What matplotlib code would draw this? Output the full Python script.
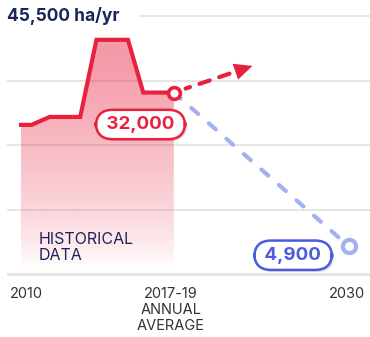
import numpy as np
import matplotlib
matplotlib.use('Agg')
import matplotlib.pyplot as plt
from matplotlib import transforms
from matplotlib import patheffects

plt.rcParams['font.family'] = ['Inter', 'DejaVu Sans']

# historical deforestation, ha/yr, up to the 2017-19 annual average
hist_years = [2010, 2010.55, 2011.5, 2013.1, 2013.95, 2015.6, 2016.4, 2018]
hist_values = [26300, 26300, 27700, 27700, 41300, 41300, 32000, 32000]

# target path to 2030
target_years = [2018, 2030]
target_values = [32000, 4900]

# rising trend if nothing changes
trend_years = [2018, 2023.4]
trend_values = [32000, 36700]

tick_years = [2010, 2018, 2030]
tick_labels = ['2010', '2017-19\nANNUAL\nAVERAGE', '2030']
grid_values = [0, 11375, 22750, 34125, 45500]
y_max = 45500

RED = '#e8213f'
BLUE = '#4a5be0'
LIGHT_BLUE = '#a3b0f2'
NAVY = '#1b2559'
GREY = '#333333'


def xpos(year):
    # the projection period is drawn compressed
    year = np.asarray(year, dtype=float)
    return np.where(year <= 2018, year - 2010, 8 + (year - 2018) * 0.763)


fig = plt.figure(figsize=(3.7, 3.37), dpi=100)
ax = fig.add_axes([0, 63 / 337, 1, 258 / 337])
ax.set_xlim(-21 / 19.1, 349 / 19.1)
ax.set_ylim(0, y_max)
for s in ax.spines.values():
    s.set_visible(False)

# gridlines
for g in grid_values:
    if g == y_max:
        ax.axhline(g, xmin=140 / 370, xmax=1, color='#e6e6e6', lw=1.4, zorder=0, clip_on=False)
    elif g == 0:
        ax.axhline(g, xmin=8 / 370, xmax=1, color='#e2e2e2', lw=2, zorder=0, clip_on=False)
    else:
        ax.axhline(g, xmin=8 / 370, xmax=1, color='#e6e6e6', lw=1.4, zorder=0)

hx = xpos(hist_years)

# pink gradient under the historical curve
grad = np.linspace(0, 1, 256)[:, None]
alpha = np.clip((grad - 0.03) / 0.88, 0, 1) ** 0.7 * 0.45
img = np.zeros((256, 1, 4))
img[..., 0] = 0xe8 / 255
img[..., 1] = 0x21 / 255
img[..., 2] = 0x3f / 255
img[..., 3] = alpha
im = ax.imshow(img, extent=[hx[0], hx[-1], 0, max(hist_values)], origin='lower',
               aspect='auto', zorder=1)
poly = ax.fill_between(hx, hist_values, 0, color='none', lw=0)
im.set_clip_path(poly.get_paths()[0], transform=ax.transData)

ax.plot(hx, hist_values, color=RED, lw=3, solid_joinstyle='miter', zorder=3)

# target line and trend arrow
ax.plot(xpos(target_years), target_values, color=LIGHT_BLUE, lw=3,
        dashes=(2.2, 3.4), dash_capstyle='round', zorder=2)
tr_start = (float(xpos(trend_years[0])), trend_values[0])
tr_end = (float(xpos(trend_years[1])), trend_values[1])
ax.annotate('', xy=tr_end, xytext=tr_start,
            arrowprops=dict(arrowstyle='-', color=RED, lw=3, linestyle=(1.5, (2.6, 2.4)),
                            capstyle='round', shrinkA=9, shrinkB=12), zorder=3)
ax.annotate('', xy=tr_end, xytext=tr_start,
            arrowprops=dict(arrowstyle='-|>,head_length=13,head_width=6', mutation_scale=1,
                            color=RED, lw=0, shrinkA=0, shrinkB=0), zorder=3)

# end point markers
ax.plot(xpos(2018), 32000, 'o', ms=8.5, mfc='white', mec=RED, mew=2.6, zorder=5)
ax.plot(xpos(2030), 4900, 'o', ms=9.5, mfc='white', mec=LIGHT_BLUE, mew=3, zorder=5)


def pill(x, y, text, color, dx, dy):
    off = transforms.offset_copy(ax.transData, fig=fig, x=dx, y=dy, units='points')
    t = ax.text(x, y, ' ' + text + ' ', transform=off, ha='center', va='center',
                fontsize=13.5, fontweight='bold', color=color, zorder=7,
                bbox=dict(boxstyle='round,pad=0.33,rounding_size=0.9', fc='white',
                          ec=color, lw=1.8))
    t.get_bbox_patch().set_path_effects([
        patheffects.SimplePatchShadow(offset=(1.5, -1.5), shadow_rgbFace='black', alpha=0.12),
        patheffects.Normal()])


pill(float(xpos(2018)), 32000, '{:,}'.format(32000), RED, -24, -23)
pill(float(xpos(2030)), 4900, '{:,}'.format(4900), BLUE, -40, -6.5)

# x ticks
ax.set_xticks(xpos(tick_years))
ax.set_xticklabels(tick_labels, fontsize=10.5, color=GREY, linespacing=1.2)
ax.set_yticks([])
ax.tick_params(axis='x', length=0, pad=9)
for lab, dx in zip(ax.get_xticklabels(), [5, -3, -2]):
    lab.set_va('top')
    lab.set_transform(lab.get_transform() + transforms.ScaledTranslation(dx / 100, 0, fig.dpi_scale_trans))

fig.text(7 / 370, 1 - 16 / 337, '45,500 ha/yr', ha='left', va='center',
         fontsize=12.5, fontweight='bold', color=NAVY)
fig.text(39 / 370, 1 - 232 / 337, 'HISTORICAL\nDATA', ha='left', va='top',
         fontsize=11.5, color=NAVY, linespacing=1.05)

fig.savefig('out.png', dpi=100)
